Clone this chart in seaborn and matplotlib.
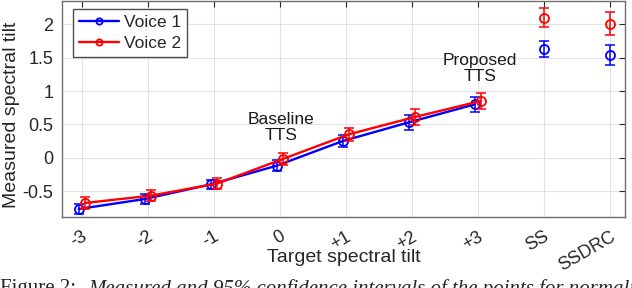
import numpy as np
import pandas as pd
import matplotlib
matplotlib.use("Agg")
import matplotlib.pyplot as plt
import seaborn as sns

# categories along the x axis
tick_labels = ['-3', '-2', '-1', '0', '+1', '+2', '+3', 'SS', 'SSDRC']
n_line = 7  # first 7 categories are joined by a line

# measured means and 95% CI half-widths
voice1_mean = [-0.77, -0.62, -0.40, -0.12, 0.25, 0.53, 0.80, 1.63, 1.54]
voice1_err = [0.07, 0.07, 0.07, 0.08, 0.09, 0.11, 0.11, 0.12, 0.15]
voice2_mean = [-0.68, -0.57, -0.39, -0.02, 0.35, 0.61, 0.85, 2.10, 2.01]
voice2_err = [0.09, 0.08, 0.08, 0.09, 0.10, 0.12, 0.12, 0.14, 0.17]

y_ticks = [-0.5, 0, 0.5, 1, 1.5, 2]
y_tick_labels = ['-0.5', '0', '0.5', '1', '1.5', '2']

sns.set_theme(style="whitegrid")
plt.rcParams['font.family'] = ['Liberation Sans', 'DejaVu Sans']

fig = plt.figure(figsize=(6.32, 2.88), dpi=100)
ax = fig.add_axes([0.098, 0.2465, 0.891, 0.75])

x = np.arange(len(tick_labels))
series = [('Voice 1', voice1_mean, voice1_err, '#0000ff', -0.045),
          ('Voice 2', voice2_mean, voice2_err, '#ff0000', 0.045)]

for name, mean, err, color, shift in series:
    xs = x.astype(float)
    xs[:n_line] += shift
    df = pd.DataFrame({'x': xs[:n_line], 'y': mean[:n_line]})
    sns.lineplot(data=df, x='x', y='y', ax=ax, color=color, lw=1.7,
                 marker='o', markersize=6.5, markerfacecolor='none',
                 markeredgecolor=color, markeredgewidth=1.3, label=name)
    ax.errorbar(xs, mean, yerr=err, fmt='none', ecolor=color,
                elinewidth=1.1, capsize=3.6, capthick=1.1)
    ax.plot(xs[n_line:], mean[n_line:], ls='none', marker='o', ms=6.5,
            mfc='none', mec=color, mew=1.3)

ax.text(3.02, 0.45, 'Baseline\nTTS', ha='center', va='center', fontsize=12.5,
        linespacing=1.05, color='#1a1a1a')
ax.text(6.03, 1.335, 'Proposed\nTTS', ha='center', va='center', fontsize=12.5,
        linespacing=1.05, color='#1a1a1a')

ax.set_xlim(-0.3, 8.23)
ax.set_ylim(-0.89, 2.35)
ax.set_xticks(x)
ax.set_xticklabels(tick_labels, rotation=30, ha='right', va='top',
                   rotation_mode='anchor')
ax.set_yticks(y_ticks)
ax.set_yticklabels(y_tick_labels)

ax.tick_params(axis='both', direction='in', length=4, width=0.8,
               color='#262626', labelsize=13, labelcolor='#262626',
               top=True, right=True)
ax.tick_params(axis='x', pad=8)
ax.tick_params(axis='y', pad=6)

ax.set_xlabel('Target spectral tilt', fontsize=14, color='#262626', va='top')
ax.set_ylabel('Measured spectral tilt', fontsize=14, color='#262626')
ax.xaxis.set_label_coords(0.5, -0.148)
ax.yaxis.set_label_coords(-0.074, 0.475)

ax.grid(True, color='#e3e3e3', lw=0.8)
ax.set_facecolor('white')
for sp in ax.spines.values():
    sp.set_color('#6e6e6e')
    sp.set_linewidth(1.0)

leg = ax.legend(loc='upper left', fontsize=12.5, frameon=True, fancybox=False,
                edgecolor='#4d4d4d', framealpha=1, handlelength=2.3,
                borderpad=0.35, labelspacing=0.3, handletextpad=0.3,
                borderaxespad=0, bbox_to_anchor=(0.0195, 0.962))
leg.get_frame().set_linewidth(1.0)
for h in leg.legend_handles:
    h.set_markersize(4.5)

# caption of the paper figure, cut off by the crop
fig.text(0.0, 0.031, 'Figure 2:', fontsize=15, family='Liberation Serif',
         va='top', ha='left', color='#262626')
fig.text(0.139, 0.031, 'Measured and 95% confidence intervals of the points for normalized',
         fontsize=15, family='Liberation Serif', style='italic',
         va='top', ha='left', color='#262626')

fig.savefig('out.png', dpi=100)
